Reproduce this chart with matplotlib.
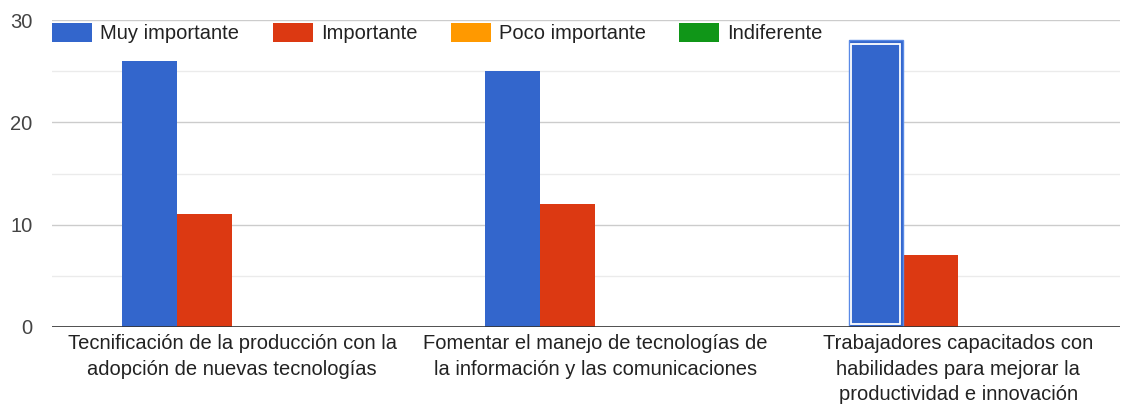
import numpy as np
import matplotlib.pyplot as plt

categorias = [
    "Tecnificación de la producción con la\nadopción de nuevas tecnologías",
    "Fomentar el manejo de tecnologías de\nla información y las comunicaciones",
    "Trabajadores capacitados con\nhabilidades para mejorar la\nproductividad e innovación",
]
series = ["Muy importante", "Importante", "Poco importante", "Indiferente"]
muy_importante = [26, 25, 28]
importante = [11, 12, 7]
poco_importante = [0, 0, 0]
indiferente = [0, 0, 0]
colores = ["#3366cc", "#dc3912", "#ff9900", "#109618"]

plt.rcParams['font.family'] = ['Liberation Sans', 'DejaVu Sans']
fs = 14.5

fig = plt.figure(figsize=(11.22, 4.04), dpi=100)
ax = fig.add_axes([52 / 1122, 77 / 404, 1068 / 1122, 307 / 404])

x = np.arange(len(categorias))
w = 0.1515
valores = [muy_importante, importante, poco_importante, indiferente]
for i, (nombre, vals, c) in enumerate(zip(series, valores, colores)):
    pos = x + (i - 1.5) * w
    ax.bar(pos, vals, w * 0.985, color=c, label=nombre, zorder=3)

# resaltado del tercer grupo (borde blanco interior)
k = 2
ax.bar(x[k] - 1.5 * w, muy_importante[k], w * 0.985, color="none",
       edgecolor="#5a8ae6", linewidth=1.0, zorder=4)
ax.bar(x[k] - 1.5 * w, muy_importante[k] - 0.6, w * 0.985 - 0.016, bottom=0.3,
       color="none", edgecolor="white", linewidth=1.3, zorder=5)

ax.set_xlim(-0.496, 2.446)
ax.set_ylim(0, 30)
ax.set_yticks([0, 10, 20, 30])
ax.set_yticks([5, 15, 25], minor=True)
ax.grid(axis='y', which='major', color='#cccccc', linewidth=1, zorder=0)
ax.grid(axis='y', which='minor', color='#ebebeb', linewidth=1, zorder=0)
ax.axhline(0, color='#333333', linewidth=1.2, zorder=6)

for s in ax.spines.values():
    s.set_visible(False)
ax.set_xticks(x)
ax.set_xticklabels(categorias, fontsize=fs, color='#222222', linespacing=1.45)
ax.tick_params(axis='x', length=0, pad=5)
ax.tick_params(axis='y', which='both', length=0, pad=14, labelsize=fs, labelcolor='#444444')

fig.legend(loc='center left', bbox_to_anchor=(52 / 1122, 1 - 33 / 404), ncol=4,
           frameon=False, fontsize=fs, handlelength=2.0, handleheight=1.1,
           handletextpad=0.4, columnspacing=1.65, borderaxespad=0, borderpad=0,
           labelcolor='#222222')

fig.savefig("out.png", dpi=100)
